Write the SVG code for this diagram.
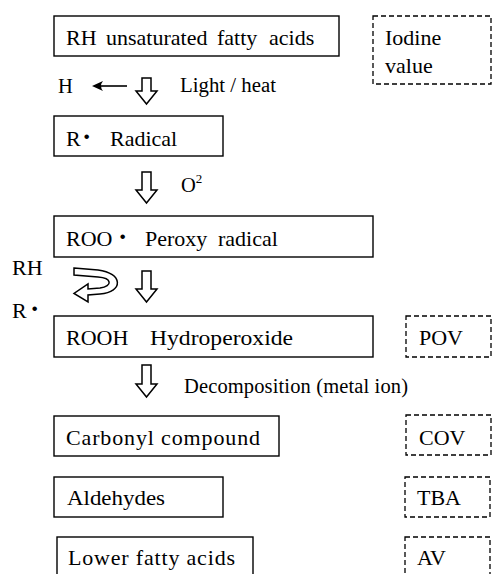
<svg xmlns="http://www.w3.org/2000/svg" width="494" height="574" viewBox="0 0 494 574">
<style>
.box{fill:#fff;stroke:#000;stroke-width:1.4}
.dbox{fill:#fff;stroke:#000;stroke-width:1.3;stroke-dasharray:5 3}
.t{font-size:22px}
.s{font-size:20.5px}
.dot{font-weight:bold;font-size:28px}
.arr{fill:#fff;stroke:#000;stroke-width:1.5;stroke-linejoin:miter}
</style>
<rect width="494" height="574" fill="#fff"/>
<g id="connectors">
<path class="arr" d="M142,78 H151 V91 H157 L146.5,104 L136,91 H142 Z"/>
<path class="arr" d="M142,172 H151 V190 H157 L146.5,203 L136,190 H142 Z"/>
<path class="arr" d="M142,271 H151 V289 H157 L146.5,302 L136,289 H142 Z"/>
<path class="arr" d="M142,365 H151 V384 H157 L146.5,397 L136,384 H142 Z"/>
<path class="arr" d="M74,268 L98,270 C123,273 124,292 100,294 L88,295 L88,302 L74,293.5 L88,284 L88,289 L100,288 C113,286 112,278 98,277 L74,275 Z"/>
<g id="h-arrow">
<line x1="127" y1="86" x2="95" y2="86" stroke="#000" stroke-width="1.6"/>
<path d="M92,86 L103,81 Q99,86 103,91 Z" fill="#000"/>
</g>
</g>
<g font-family="Liberation Serif, DejaVu Serif, serif" fill="#000">
<g id="n-rh">
<rect class="box" x="54" y="16" width="285" height="40"/>
<text class="t" y="45"><tspan x="66">RH</tspan> <tspan x="106">unsaturated</tspan> <tspan x="217">fatty</tspan> <tspan x="269">acids</tspan></text>
</g>
<g id="n-iodine">
<rect class="dbox" x="373" y="16" width="118" height="68"/>
<text class="t"><tspan x="385" y="45">Iodine</tspan><tspan x="385" y="73">value</tspan></text>
</g>
<g id="l-h"><text class="s" x="58" y="93">H</text></g>
<g id="l-light"><text class="s" x="180" y="92" textLength="96" lengthAdjust="spacingAndGlyphs">Light / heat</text></g>
<g id="n-r">
<rect class="box" x="54" y="116" width="169" height="40"/>
<text class="t" y="146"><tspan x="66">R</tspan><tspan class="dot" x="82">·</tspan><tspan x="110">Radical</tspan></text>
</g>
<g id="l-o2"><text class="s" x="181" y="192">O<tspan font-size="13" y="183">2</tspan></text></g>
<g id="n-roo">
<rect class="box" x="54" y="216" width="319" height="41"/>
<text class="t" y="246"><tspan x="66">ROO</tspan><tspan class="dot" x="118">·</tspan><tspan x="145">Peroxy</tspan> <tspan x="218">radical</tspan></text>
</g>
<g id="l-rh"><text class="t" x="12" y="275">RH</text></g>
<g id="l-r"><text class="t" y="318"><tspan x="12">R</tspan><tspan class="dot" x="30">·</tspan></text></g>
<g id="n-rooh">
<rect class="box" x="54" y="316" width="319" height="41"/>
<text class="t" y="345"><tspan x="66">ROOH</tspan> <tspan x="150" textLength="143" lengthAdjust="spacingAndGlyphs">Hydroperoxide</tspan></text>
</g>
<g id="n-pov">
<rect class="dbox" x="406" y="316" width="85" height="41"/>
<text class="t" x="419" y="345">POV</text>
</g>
<g id="l-decomp"><text class="s" x="184" y="393" textLength="224">Decomposition (metal ion)</text></g>
<g id="n-carbonyl">
<rect class="box" x="54" y="416" width="225" height="40"/>
<text class="t" x="66" y="445" textLength="194">Carbonyl compound</text>
</g>
<g id="n-cov">
<rect class="dbox" x="406" y="415" width="85" height="40"/>
<text class="t" x="419" y="445">COV</text>
</g>
<g id="n-aldehydes">
<rect class="box" x="54" y="477" width="169" height="40"/>
<text class="t" x="67" y="505" textLength="98" lengthAdjust="spacingAndGlyphs">Aldehydes</text>
</g>
<g id="n-tba">
<rect class="dbox" x="405" y="477" width="85" height="40"/>
<text class="t" x="417" y="505">TBA</text>
</g>
<g id="n-lower">
<rect class="box" x="57" y="537" width="196" height="45"/>
<text class="t" x="68" y="565" textLength="167">Lower fatty acids</text>
</g>
<g id="n-av">
<rect class="dbox" x="405" y="537" width="85" height="45"/>
<text class="t" x="417" y="565">AV</text>
</g>
</g>
</svg>
